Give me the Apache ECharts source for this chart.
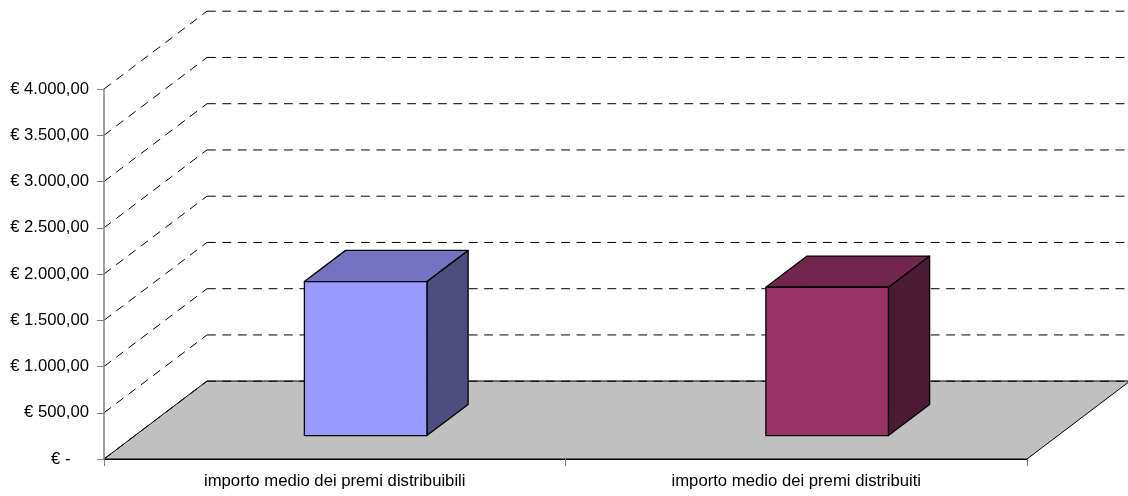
<!DOCTYPE html>
<html>
<head>
<meta charset="utf-8">
<style>html,body{margin:0;padding:0;background:#fff}#c{width:1128px;height:496px}</style>
<script src="https://cdn.jsdelivr.net/npm/echarts@6/dist/echarts.min.js"></script>
</head>
<body>
<div id="c"></div>
<script>
var categories = ['importo medio dei premi distribuibili', 'importo medio dei premi distribuiti'];
var values = [1665, 1604];
var gridValues = [0, 500, 1000, 1500, 2000, 2500, 3000, 3500, 4000];
var tickLabels = ['€ -    ', '€ 500,00', '€ 1.000,00', '€ 1.500,00', '€ 2.000,00', '€ 2.500,00', '€ 3.000,00', '€ 3.500,00', '€ 4.000,00'];
var frontColors = ['#9999FF', '#993366'];
var topColors = ['#7373BF', '#73264D'];
var sideColors = ['#4D4D80', '#4D1A33'];

var DX = 103, DY = -78;          // oblique projection of the chart's depth
var BAR_WIDTH = 0.2655;          // share of a category band
var BAR_START = 0.3, BAR_DEPTH = 0.4; // share of the floor depth
var FONT = '"Liberation Sans", Arial, sans-serif';
var DASH = [8.8, 6.6];

function renderFloor(params, api) {
  var g = params.coordSys;
  var p0 = api.coord([0, 0]);
  var y = p0[1], xl = g.x, xr = g.x + g.width;
  return {
    type: 'polygon',
    shape: { points: [[xl, y], [xr, y], [xr + DX, y + DY], [xl + DX, y + DY]] },
    style: { fill: '#C0C0C0', stroke: '#000', lineWidth: 1 }
  };
}
function renderGrid(params, api) {
  var g = params.coordSys;
  var y = api.coord([0, api.value(0)])[1];
  var xl = g.x, xr = g.x + g.width;
  var yb = y + DY + 0.2;
  var st = { fill: null, stroke: '#000', lineWidth: 1, lineDash: DASH };
  return {
    type: 'group',
    children: [
      { type: 'polyline', shape: { points: [[xl, y], [xl + DX, yb]] }, style: st },
      { type: 'polyline', shape: { points: [[xl + DX, yb], [xr + DX, yb]] }, style: st }
    ]
  };
}
function renderBar(params, api) {
  var i = api.value(0);
  var base = api.coord([i, 0]);
  var top = api.coord([i, api.value(1)]);
  var w = api.size([1, 0])[0] * BAR_WIDTH;
  var ox = DX * BAR_START, oy = DY * BAR_START;
  var dx = DX * BAR_DEPTH, dy = DY * BAR_DEPTH;
  var x0 = base[0] - w / 2 + ox, x1 = x0 + w;
  var yb = base[1] + oy, yt = yb - (base[1] - top[1]);
  var st = { stroke: '#000', lineWidth: 1.3, lineJoin: 'round' };
  function poly(pts, fill) {
    return { type: 'polygon', shape: { points: pts }, style: Object.assign({ fill: fill }, st) };
  }
  return {
    type: 'group',
    children: [
      poly([[x1, yb], [x1 + dx, yb + dy], [x1 + dx, yt + dy], [x1, yt]], sideColors[i]),
      poly([[x0, yt], [x0 + dx, yt + dy], [x1 + dx, yt + dy], [x1, yt]], topColors[i]),
      poly([[x0, yb], [x1, yb], [x1, yt], [x0, yt]], frontColors[i])
    ]
  };
}

var chart = echarts.init(document.getElementById('c'), null, { renderer: 'canvas' });
chart.setOption({
  animation: false,
  backgroundColor: '#fff',
  grid: { left: 104, right: 101, top: 89, bottom: 37 },
  xAxis: {
    type: 'category',
    data: categories,
    boundaryGap: true,
    z: 6,
    axisLine: { lineStyle: { color: '#000', width: 1 } },
    axisTick: { show: true, alignWithLabel: false, length: 7, lineStyle: { color: '#808080', width: 1 } },
    axisLabel: { color: '#000', fontFamily: FONT, fontSize: 16.7, margin: 14, interval: 0 },
    splitLine: { show: false }
  },
  yAxis: {
    type: 'value',
    min: 0,
    max: 4000,
    interval: 500,
    z: 6,
    axisLine: { show: true, lineStyle: { color: '#808080', width: 1.5 } },
    axisTick: { show: true, length: 7, lineStyle: { color: '#808080', width: 1 } },
    axisLabel: {
      color: '#000', fontFamily: FONT, fontSize: 16.7, margin: 15, padding: [4, 0, 0, 0],
      formatter: function (v) { return tickLabels[gridValues.indexOf(v)]; }
    },
    splitLine: { show: false }
  },
  series: [
    { type: 'custom', silent: true, z: 1, renderItem: renderFloor, data: [[0]], encode: { x: 0 } },
    { type: 'custom', silent: true, z: 2, renderItem: renderGrid,
      data: gridValues.map(function (v) { return [v]; }), encode: { y: 0 } },
    { type: 'custom', silent: true, z: 3, renderItem: renderBar,
      data: values.map(function (v, i) { return [i, v]; }), encode: { x: 0, y: 1 } }
  ]
});
</script>
</body>
</html>
